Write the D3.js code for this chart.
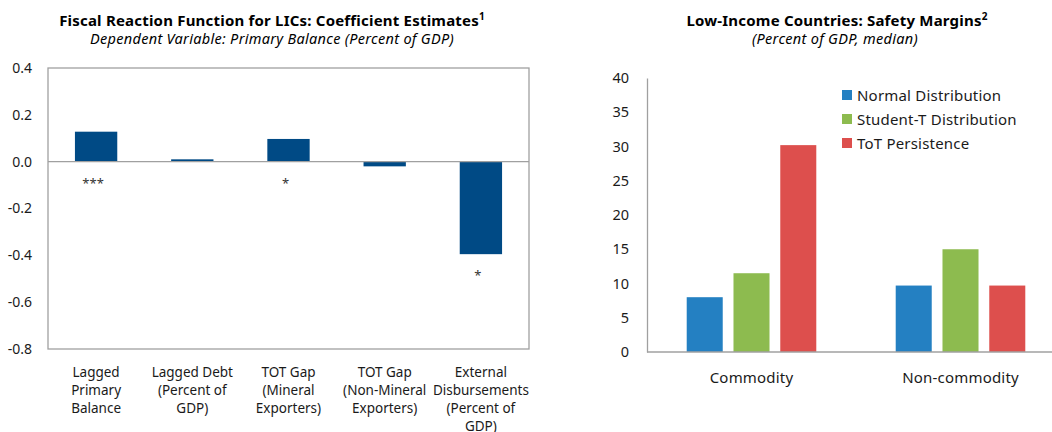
<!DOCTYPE html>
<html>
<head>
<meta charset="utf-8">
<script src="https://cdn.jsdelivr.net/npm/d3@7"></script>
<style>
  html, body { margin: 0; padding: 0; background: #fff; }
  svg { display: block; font-family: "Noto Sans", "Open Sans", sans-serif; }
</style>
</head>
<body>
<svg id="chart" width="1052" height="432"></svg>
<script>
// Left panel: fiscal reaction function coefficients
const coefCategories = [
  ["Lagged", "Primary", "Balance"],
  ["Lagged Debt", "(Percent of", "GDP)"],
  ["TOT Gap", "(Mineral", "Exporters)"],
  ["TOT Gap", "(Non-Mineral", "Exporters)"],
  ["External", "Disbursements", "(Percent of", "GDP)"]
];
const coefValues = [0.128, 0.01, 0.097, -0.02, -0.395];
const coefStars = ["***", "", "*", "", "*"];
const coefTicks = [0.4, 0.2, 0.0, -0.2, -0.4, -0.6, -0.8];

// Right panel: safety margins by country group
const marginGroups = ["Commodity", "Non-commodity"];
const marginSeries = ["Normal Distribution", "Student-T Distribution", "ToT Persistence"];
const normalValues = [8.0, 9.7];
const studentTValues = [11.5, 15.0];
const totPersistenceValues = [30.2, 9.7];
const marginTicks = [0, 5, 10, 15, 20, 25, 30, 35, 40];

const svg = d3.select("#chart");
const textColor = "#1a1a1a";
const axisGray = "#a0a0a0";

// ---------- Left panel ----------
const L = { left: 48, right: 529, top: 68, bottom: 349 };
const yL = d3.scaleLinear().domain([-0.8, 0.4]).range([L.bottom, L.top]);
const xL = d3.scaleBand().domain(d3.range(coefValues.length)).range([L.left, L.right]).paddingInner(0.56).paddingOuter(0.28);

const left = svg.append("g");

left.append("text")
  .attr("x", 272).attr("y", 26).attr("text-anchor", "middle")
  .attr("font-weight", "bold").attr("font-size", 15).attr("letter-spacing", 0.2).attr("fill", "#000")
  .text("Fiscal Reaction Function for LICs:  Coefficient Estimates")
  .append("tspan").attr("dy", -6).attr("font-size", 10).text("1");

left.append("text")
  .attr("x", 272).attr("y", 44).attr("text-anchor", "middle")
  .attr("font-style", "italic").attr("font-size", 14.5).attr("letter-spacing", 0.3).attr("fill", "#000")
  .text("Dependent  Variable:  Primary Balance  (Percent  of  GDP)");

left.append("rect")
  .attr("x", L.left).attr("y", L.top)
  .attr("width", L.right - L.left).attr("height", L.bottom - L.top)
  .attr("fill", "none").attr("stroke", axisGray).attr("stroke-width", 1.3);

const yAxisL = left.append("g")
  .attr("transform", `translate(${L.left},0)`)
  .call(d3.axisLeft(yL).tickValues(coefTicks).tickSize(0).tickPadding(16).tickFormat(d3.format(".1f")));
yAxisL.select(".domain").remove();
yAxisL.selectAll("text").attr("font-size", 14).attr("fill", textColor).attr("font-family", "Noto Sans, sans-serif")
  .text(d => d3.format(".1f")(d).replace("−", "-"));

left.selectAll("rect.bar")
  .data(coefValues)
  .join("rect")
  .attr("class", "bar")
  .attr("x", (d, i) => xL(i))
  .attr("width", xL.bandwidth())
  .attr("y", d => yL(Math.max(0, d)))
  .attr("height", d => Math.abs(yL(d) - yL(0)))
  .attr("fill", "#004A85");

left.append("line")
  .attr("x1", L.left).attr("x2", L.right)
  .attr("y1", yL(0)).attr("y2", yL(0))
  .attr("stroke", axisGray).attr("stroke-width", 1.2);

left.selectAll("text.star")
  .data(coefValues)
  .join("text")
  .attr("class", "star")
  .attr("x", (d, i) => xL(i) + xL.bandwidth() / 2 - 3)
  .attr("y", d => (d >= 0 ? yL(0) : yL(d)) + 26)
  .attr("text-anchor", "middle")
  .attr("font-size", 13).attr("fill", "#333")
  .text((d, i) => coefStars[i]);

left.selectAll("text.cat")
  .data(coefCategories)
  .join("text")
  .attr("class", "cat")
  .attr("x", (d, i) => xL(i) + xL.bandwidth() / 2)
  .attr("y", 377)
  .attr("text-anchor", "middle")
  .attr("font-size", 13.5).attr("fill", textColor)
  .each(function (lines) {
    d3.select(this).selectAll("tspan")
      .data(lines).join("tspan")
      .attr("x", d3.select(this).attr("x"))
      .attr("dy", (l, j) => j === 0 ? 0 : 18)
      .text(l => l);
  });

// ---------- Right panel ----------
const R = { left: 647, right: 1065, top: 78, bottom: 352 };
const yR = d3.scaleLinear().domain([0, 40]).range([R.bottom, R.top]);
const x0 = d3.scaleBand().domain(marginGroups).range([R.left, R.right]).paddingInner(0.38).paddingOuter(0.19);
const x1 = d3.scaleBand().domain(marginSeries).range([0, x0.bandwidth()]).paddingInner(0.23).paddingOuter(0);
const color = d3.scaleOrdinal().domain(marginSeries).range(["#2480C2", "#8DBB4F", "#DD4F4D"]);
const seriesValues = [normalValues, studentTValues, totPersistenceValues];

const right = svg.append("g");

right.append("text")
  .attr("x", 837).attr("y", 26).attr("text-anchor", "middle")
  .attr("font-weight", "bold").attr("font-size", 15).attr("letter-spacing", 0.2).attr("fill", "#000")
  .text("Low-Income Countries:  Safety Margins")
  .append("tspan").attr("dy", -6).attr("font-size", 10).text("2");

right.append("text")
  .attr("x", 835).attr("y", 44).attr("text-anchor", "middle")
  .attr("font-style", "italic").attr("font-size", 14.5).attr("letter-spacing", 0.3).attr("fill", "#000")
  .text("(Percent  of GDP,  median)");

const yAxisR = right.append("g")
  .attr("transform", `translate(${R.left},0)`)
  .call(d3.axisLeft(yR).tickValues(marginTicks).tickSize(0).tickPadding(18));
yAxisR.select(".domain").attr("stroke", axisGray).attr("stroke-width", 1.3);
yAxisR.selectAll("text").attr("font-size", 14.5).attr("fill", textColor).attr("font-family", "Noto Sans, sans-serif");

const groups = right.selectAll("g.grp")
  .data(marginGroups)
  .join("g")
  .attr("class", "grp")
  .attr("transform", g => `translate(${x0(g)},0)`);

groups.selectAll("rect")
  .data((g, gi) => marginSeries.map((s, si) => ({ s, v: seriesValues[si][gi] })))
  .join("rect")
  .attr("x", d => x1(d.s))
  .attr("width", x1.bandwidth())
  .attr("y", d => yR(d.v))
  .attr("height", d => yR(0) - yR(d.v))
  .attr("fill", d => color(d.s));

right.append("line")
  .attr("x1", R.left).attr("x2", 1052)
  .attr("y1", yR(0)).attr("y2", yR(0))
  .attr("stroke", axisGray).attr("stroke-width", 1.3);

right.selectAll("text.grpLabel")
  .data(marginGroups)
  .join("text")
  .attr("class", "grpLabel")
  .attr("x", g => x0(g) + x0.bandwidth() / 2)
  .attr("y", 383)
  .attr("text-anchor", "middle")
  .attr("font-size", 15).attr("letter-spacing", 0.2).attr("fill", textColor)
  .text(g => g);

const legend = right.selectAll("g.leg")
  .data(marginSeries)
  .join("g")
  .attr("class", "leg")
  .attr("transform", (s, i) => `translate(842,${95 + i * 24})`);
legend.append("rect")
  .attr("x", 0).attr("y", -5).attr("width", 10).attr("height", 10)
  .attr("fill", s => color(s));
legend.append("text")
  .attr("x", 15).attr("y", 5.5)
  .attr("font-size", 15).attr("letter-spacing", 0.2).attr("fill", textColor)
  .text(s => s);
</script>
</body>
</html>
